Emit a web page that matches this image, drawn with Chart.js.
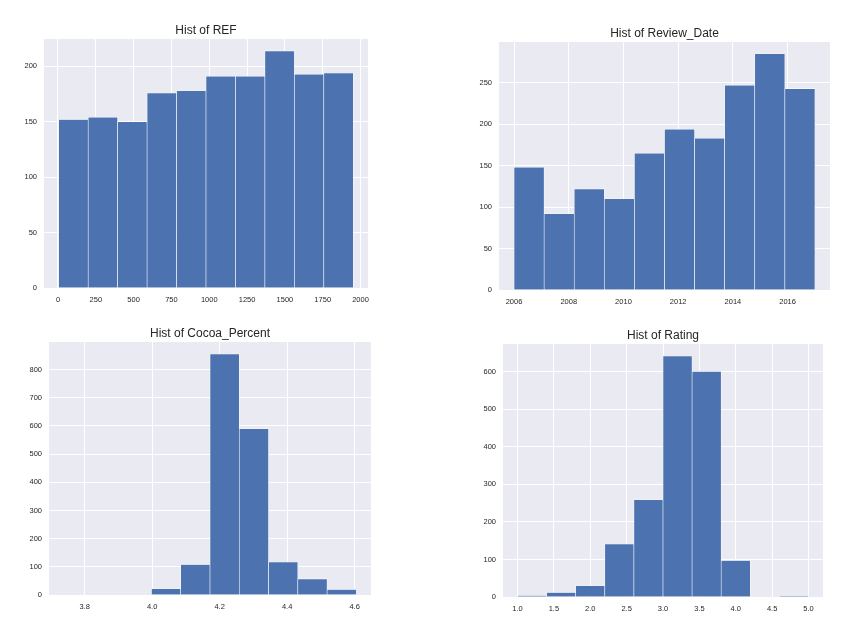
<!DOCTYPE html>
<html><head><meta charset="utf-8">
<script src="https://cdn.jsdelivr.net/npm/chart.js@4.4.0/dist/chart.umd.min.js"></script>
<style>
html,body{margin:0;padding:0;background:#fff;width:844px;height:639px;overflow:hidden}
canvas{position:absolute;display:block}
</style></head><body>
<canvas id="c0"></canvas>
<canvas id="c1"></canvas>
<canvas id="c2"></canvas>
<canvas id="c3"></canvas>
<script>
// ---- data ----
const refTitle = 'Hist of REF';
const refEdges = [5, 199.7, 394.4, 589.1, 783.8, 978.5, 1173.2, 1367.9, 1562.6, 1757.3, 1952];
const refCounts = [152, 154, 150, 176, 178, 191, 191, 214, 193, 194];
const refXTicks = [0, 250, 500, 750, 1000, 1250, 1500, 1750, 2000];
const refXLabels = ['0', '250', '500', '750', '1000', '1250', '1500', '1750', '2000'];
const refYTicks = [0, 50, 100, 150, 200];
const refYLabels = ['0', '50', '100', '150', '200'];

const dateTitle = 'Hist of Review_Date';
const dateEdges = [2006, 2007.1, 2008.2, 2009.3, 2010.4, 2011.5, 2012.6, 2013.7, 2014.8, 2015.9, 2017];
const dateCounts = [148, 92, 122, 110, 165, 194, 183, 247, 285, 243];
const dateXTicks = [2006, 2008, 2010, 2012, 2014, 2016];
const dateXLabels = ['2006', '2008', '2010', '2012', '2014', '2016'];
const dateYTicks = [0, 50, 100, 150, 200, 250];
const dateYLabels = ['0', '50', '100', '150', '200', '250'];

const cocoaTitle = 'Hist of Cocoa_Percent';
const cocoaEdges = [3.7377, 3.8245, 3.9112, 3.9980, 4.0847, 4.1715, 4.2582, 4.3450, 4.4317, 4.5185, 4.6052];
const cocoaCounts = [0, 0, 0, 22, 108, 855, 590, 117, 57, 20];
const cocoaXTicks = [3.8, 4.0, 4.2, 4.4, 4.6];
const cocoaXLabels = ['3.8', '4.0', '4.2', '4.4', '4.6'];
const cocoaYTicks = [0, 100, 200, 300, 400, 500, 600, 700, 800];
const cocoaYLabels = ['0', '100', '200', '300', '400', '500', '600', '700', '800'];

const ratingTitle = 'Hist of Rating';
const ratingEdges = [1.0, 1.4, 1.8, 2.2, 2.6, 3.0, 3.4, 3.8, 4.2, 4.6, 5.0];
const ratingCounts = [4, 12, 30, 141, 259, 642, 601, 97, 0, 2];
const ratingXTicks = [1.0, 1.5, 2.0, 2.5, 3.0, 3.5, 4.0, 4.5, 5.0];
const ratingXLabels = ['1.0', '1.5', '2.0', '2.5', '3.0', '3.5', '4.0', '4.5', '5.0'];
const ratingYTicks = [0, 100, 200, 300, 400, 500, 600];
const ratingYLabels = ['0', '100', '200', '300', '400', '500', '600'];

// ---- layout (plot-area rectangles in page px) ----
const rects = [
  {l: 44, t: 39, r: 368, b: 288.3},
  {l: 498.7, t: 42.3, r: 829.7, b: 290.7},
  {l: 49.3, t: 342.3, r: 371, b: 595},
  {l: 503.3, t: 343.7, r: 823, b: 596.7}
];

const FONT = "'Liberation Sans', Arial, sans-serif";
const TEXT = '#262626';

const bgPlugin = {
  id: 'bg',
  beforeDraw(chart) {
    const {ctx, chartArea: a} = chart;
    ctx.save();
    ctx.fillStyle = '#EAEAF2';
    ctx.fillRect(a.left, a.top, a.right - a.left, a.bottom - a.top);
    ctx.restore();
  }
};

function makeChart(idx, title, edges, counts, xTicks, xLabels, yTicks, yLabels) {
  const rect = rects[idx];
  const YW = 45, XH = 22, TH = 24, PR = 18, PB = 4;
  const canvas = document.getElementById('c' + idx);
  const left = Math.round(rect.l - YW), top = Math.round(rect.t - TH);
  const W = Math.round(rect.r - rect.l + YW + PR);
  const H = Math.round(rect.b - rect.t + TH + XH + PB);
  canvas.style.left = left + 'px';
  canvas.style.top = top + 'px';
  canvas.width = W; canvas.height = H;
  canvas.style.width = W + 'px'; canvas.style.height = H + 'px';

  const pts = counts.map((c, i) => ({x: (edges[i] + edges[i + 1]) / 2, y: c}));
  const span = edges[edges.length - 1] - edges[0];
  const xMin = edges[0] - 0.05 * span, xMax = edges[edges.length - 1] + 0.05 * span;
  const yMax = Math.max(...counts) * 1.05;

  new Chart(canvas, {
    type: 'bar',
    data: {
      datasets: [{
        data: pts,
        backgroundColor: '#4C72B0',
        borderColor: '#ffffff',
        borderWidth: 0.6,
        borderSkipped: 'start',
        barPercentage: 1,
        categoryPercentage: 1,
        grouped: false
      }]
    },
    options: {
      responsive: false,
      animation: false,
      events: [],
      layout: {padding: {left: 0, top: 0, right: PR, bottom: PB}},
      plugins: {
        legend: {display: false},
        tooltip: {enabled: false},
        title: {
          display: true, text: title, fullSize: false, color: TEXT,
          font: {family: FONT, size: 12, weight: 'normal', lineHeight: 1.2},
          padding: {top: 8.8, bottom: 0.8}
        }
      },
      scales: {
        x: {
          type: 'linear', min: xMin, max: xMax, offset: false,
          grid: {color: '#ffffff', lineWidth: 1, drawTicks: false, offset: false},
          border: {display: false},
          ticks: {
            autoSkip: false, maxRotation: 0, minRotation: 0, padding: 7.3, color: TEXT,
            font: {family: FONT, size: 7.5},
            callback: (v, i) => xLabels[i]
          },
          afterBuildTicks: s => { s.ticks = xTicks.map(v => ({value: v})); },
          afterFit: s => { s.height = XH; s.paddingLeft = 0; s.paddingRight = 0; }
        },
        y: {
          type: 'linear', min: 0, max: yMax,
          grid: {color: '#ffffff', lineWidth: 1, drawTicks: false},
          border: {display: false},
          ticks: {
            autoSkip: false, padding: 7, color: TEXT,
            font: {family: FONT, size: 7.5},
            callback: (v, i) => yLabels[i]
          },
          afterBuildTicks: s => { s.ticks = yTicks.map(v => ({value: v})); },
          afterFit: s => { s.width = YW; s.paddingTop = 0; s.paddingBottom = 0; }
        }
      }
    },
    plugins: [bgPlugin]
  });
}

makeChart(0, refTitle, refEdges, refCounts, refXTicks, refXLabels, refYTicks, refYLabels);
makeChart(1, dateTitle, dateEdges, dateCounts, dateXTicks, dateXLabels, dateYTicks, dateYLabels);
makeChart(2, cocoaTitle, cocoaEdges, cocoaCounts, cocoaXTicks, cocoaXLabels, cocoaYTicks, cocoaYLabels);
makeChart(3, ratingTitle, ratingEdges, ratingCounts, ratingXTicks, ratingXLabels, ratingYTicks, ratingYLabels);
</script>
</body></html>
